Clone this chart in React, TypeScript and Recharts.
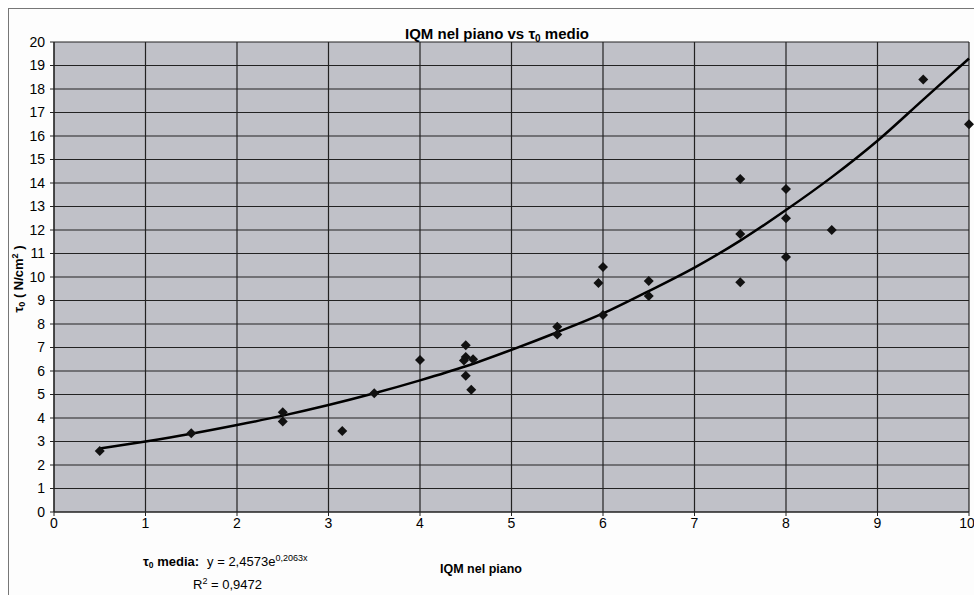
import React from 'react';
import { ComposedChart, Scatter, Line, XAxis, YAxis, CartesianGrid, Customized } from 'recharts';

// Measured points: IQM nel piano (x) vs tau0 medio (y)
const pointX = [0.5, 1.5, 2.5, 2.5, 3.15, 3.5, 4.0, 4.5, 4.5, 4.58, 4.48, 4.5, 4.56, 5.5, 5.5, 5.95, 6.0, 6.0, 6.5, 6.5, 7.5, 7.5, 7.5, 8.0, 8.0, 8.0, 8.5, 9.5, 10.0];
const pointY = [2.6, 3.35, 4.25, 3.85, 3.45, 5.05, 6.47, 7.1, 6.6, 6.5, 6.45, 5.8, 5.2, 7.88, 7.55, 9.75, 10.43, 8.38, 9.83, 9.19, 14.17, 11.83, 9.78, 13.74, 12.5, 10.85, 12.0, 18.4, 16.5];

// Exponential trend line
const trendX = [0.5, 1, 1.5, 2, 2.5, 3, 3.5, 4, 4.5, 5, 5.5, 6, 6.5, 7, 7.5, 8, 8.5, 9, 9.5, 10];
const trendY = [2.7, 3.0, 3.33, 3.7, 4.1, 4.55, 5.05, 5.6, 6.2, 6.9, 7.65, 8.45, 9.4, 10.4, 11.55, 12.85, 14.25, 15.8, 17.55, 19.3];

const xTicks = [0, 1, 2, 3, 4, 5, 6, 7, 8, 9, 10];
const yTicks = [0, 1, 2, 3, 4, 5, 6, 7, 8, 9, 10, 11, 12, 13, 14, 15, 16, 17, 18, 19, 20];

const titleText = 'IQM nel piano vs ';
const xLabelText = 'IQM nel piano';
const eqLabel = ' media:';
const eqText = 'y = 2,4573e';
const eqExp = '0,2063x';
const r2Text = ' = 0,9472';

const points = pointX.map((x, i) => ({ x, y: pointY[i] }));
const trend = trendX.map((x, i) => ({ x, y: trendY[i] }));

const FONT = '"Liberation Sans", Arial, sans-serif';

const Diamond = (props: any) => {
  const { cx, cy } = props;
  if (cx == null || cy == null) return null;
  const r = 5;
  return <polygon points={`${cx},${cy - r} ${cx + r},${cy} ${cx},${cy + r} ${cx - r},${cy}`} fill="#111" />;
};

const Texts = () => (
  <g fontFamily={FONT} fill="#000">
    <text x={488} y={30} fontSize={15} fontWeight="bold" textAnchor="middle">
      {titleText}τ<tspan fontSize={10} dy={3}>0</tspan><tspan dy={-3}> medio</tspan>
    </text>
    <text x={472} y={564} fontSize={12.5} fontWeight="bold" textAnchor="middle">{xLabelText}</text>
    <text x={134} y={557} fontSize={13}>
      <tspan fontWeight="bold">τ</tspan><tspan fontWeight="bold" fontSize={8.5} dy={2}>0</tspan>
      <tspan fontWeight="bold" dy={-2}>{eqLabel}</tspan>
      <tspan dx={8}>{eqText}</tspan>
      <tspan fontSize={9} dy={-5}>{eqExp}</tspan>
    </text>
    <text x={184} y={580} fontSize={13}>
      R<tspan fontSize={9} dy={-5}>2</tspan><tspan dy={5}>{r2Text}</tspan>
    </text>
    <text transform="translate(14,270) rotate(-90)" fontSize={13} fontWeight="bold" textAnchor="middle">
      τ<tspan fontSize={9} dy={2}>0</tspan><tspan dy={-2}> ( N/cm</tspan><tspan fontSize={9} dy={-5}>2</tspan><tspan dy={5}> )</tspan>
    </text>
  </g>
);

export default function App() {
  return (
    <div
      style={{
        position: 'absolute',
        left: 8,
        top: 8,
        width: 966,
        height: 587,
        boxSizing: 'border-box',
        borderLeft: '1px solid #777',
        borderTop: '1px solid #777',
        background: '#fdfdfd',
        overflow: 'hidden',
      }}
    >
      <ComposedChart
        width={965}
        height={586}
        margin={{ top: 33, right: 5, bottom: 0, left: 0 }}
      >
        <CartesianGrid stroke="#222" strokeWidth={1.2} fill="#c0c1c8" fillOpacity={1} horizontalValues={yTicks} verticalValues={xTicks} />
        <XAxis
          type="number"
          dataKey="x"
          domain={[0, 10]}
          ticks={xTicks}
          height={83}
          stroke="#222"
          tickSize={4}
          tickMargin={2}
          tick={{ fill: '#000', fontSize: 14, fontFamily: FONT }}
        />
        <YAxis
          type="number"
          dataKey="y"
          domain={[0, 20]}
          ticks={yTicks}
          interval={0}
          width={45}
          stroke="#222"
          tickSize={4}
          tickMargin={5}
          tick={{ fill: '#000', fontSize: 14, fontFamily: FONT }}
        />
        <Line
          data={trend}
          dataKey="y"
          type="monotone"
          dot={false}
          activeDot={false}
          stroke="#000"
          strokeWidth={2.5}
          isAnimationActive={false}
        />
        <Scatter data={points} dataKey="y" shape={<Diamond />} isAnimationActive={false} />
        <Customized component={Texts} />
      </ComposedChart>
    </div>
  );
}
